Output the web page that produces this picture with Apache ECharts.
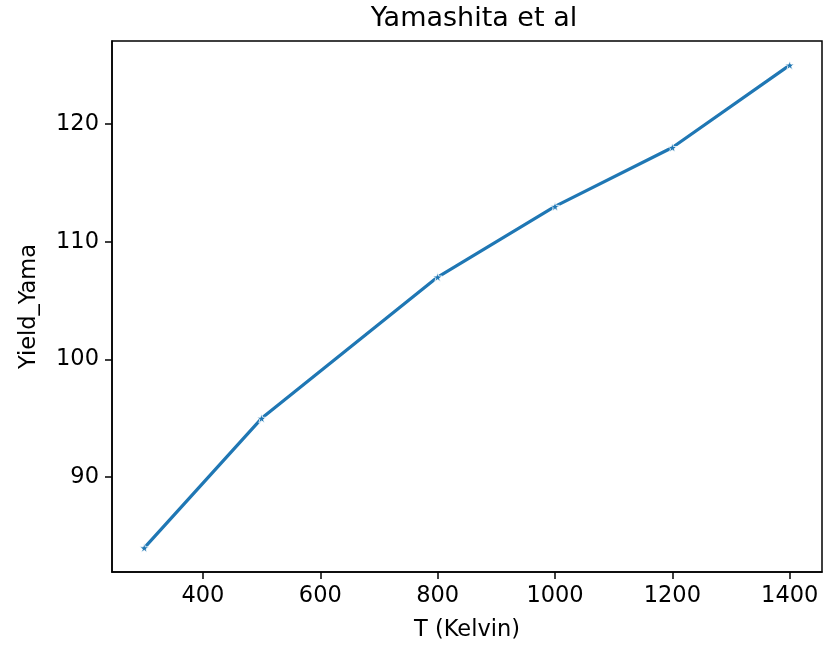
<!DOCTYPE html>
<html>
<head>
<meta charset="utf-8">
<script src="https://cdn.jsdelivr.net/npm/echarts@6/dist/echarts.min.js"></script>
<style>html,body{margin:0;padding:0;background:#fff}#c{width:835px;height:647px}</style>
</head>
<body>
<div id="c"></div>
<script>
const temperatures = [300, 500, 800, 1000, 1200, 1400];
const yieldYama = [84, 95, 107, 113, 118, 125];
const xTicks = [400, 600, 800, 1000, 1200, 1400];
const yTicks = [90, 100, 110, 120];

const chart = echarts.init(document.getElementById('c'));
const font = 'DejaVu Sans';
const star = 'path://M50,0 L61.8,35.1 L97.6,34.5 L69.1,56.9 L79.4,90.5 L50,70 L20.6,90.5 L30.9,56.9 L2.4,34.5 L38.2,35.1 Z';
chart.setOption({
  animation: false,
  title: {
    text: 'Yamashita et al',
    left: 469, top: 0, textAlign: 'center',
    textStyle: {fontFamily: font, fontSize: 27, fontWeight: 'normal', color: '#000'}
  },
  grid: {left: 112, right: 13, top: 41, bottom: 74, show: true, borderColor: '#000', borderWidth: 1.5, backgroundColor: '#fff'},
  xAxis: {
    type: 'value', min: 245, max: 1455,
    name: 'T (Kelvin)', nameLocation: 'middle', nameGap: 47,
    nameTextStyle: {fontFamily: font, fontSize: 22.5, color: '#000'},
    axisLine: {show: true, lineStyle: {color: '#000', width: 1.5}},
    axisTick: {show: true, length: 7, inside: false, customValues: xTicks, lineStyle: {color: '#000', width: 1.5}},
    axisLabel: {customValues: xTicks, formatter: v => String(v), fontFamily: font, fontSize: 22.5, color: '#000', margin: 13},
    splitLine: {show: false}
  },
  yAxis: {
    type: 'value', min: 81.95, max: 127.05,
    name: 'Yield_Yama', nameLocation: 'middle', nameGap: 71, nameRotate: 90,
    nameTextStyle: {fontFamily: font, fontSize: 22.5, color: '#000'},
    axisLine: {show: true, lineStyle: {color: '#000', width: 1.5}},
    axisTick: {show: true, length: 7, customValues: yTicks, lineStyle: {color: '#000', width: 1.5}},
    axisLabel: {customValues: yTicks, formatter: v => String(v), fontFamily: font, fontSize: 22.5, color: '#000', margin: 13},
    splitLine: {show: false}
  },
  series: [{
    type: 'line',
    data: temperatures.map((t, i) => [t, yieldYama[i]]),
    symbol: star, symbolSize: 9, showAllSymbol: true,
    lineStyle: {color: '#1f77b4', width: 3.2},
    itemStyle: {color: '#1f77b4', borderColor: '#fff', borderWidth: 0.8}
  }]
});
</script>
</body>
</html>
